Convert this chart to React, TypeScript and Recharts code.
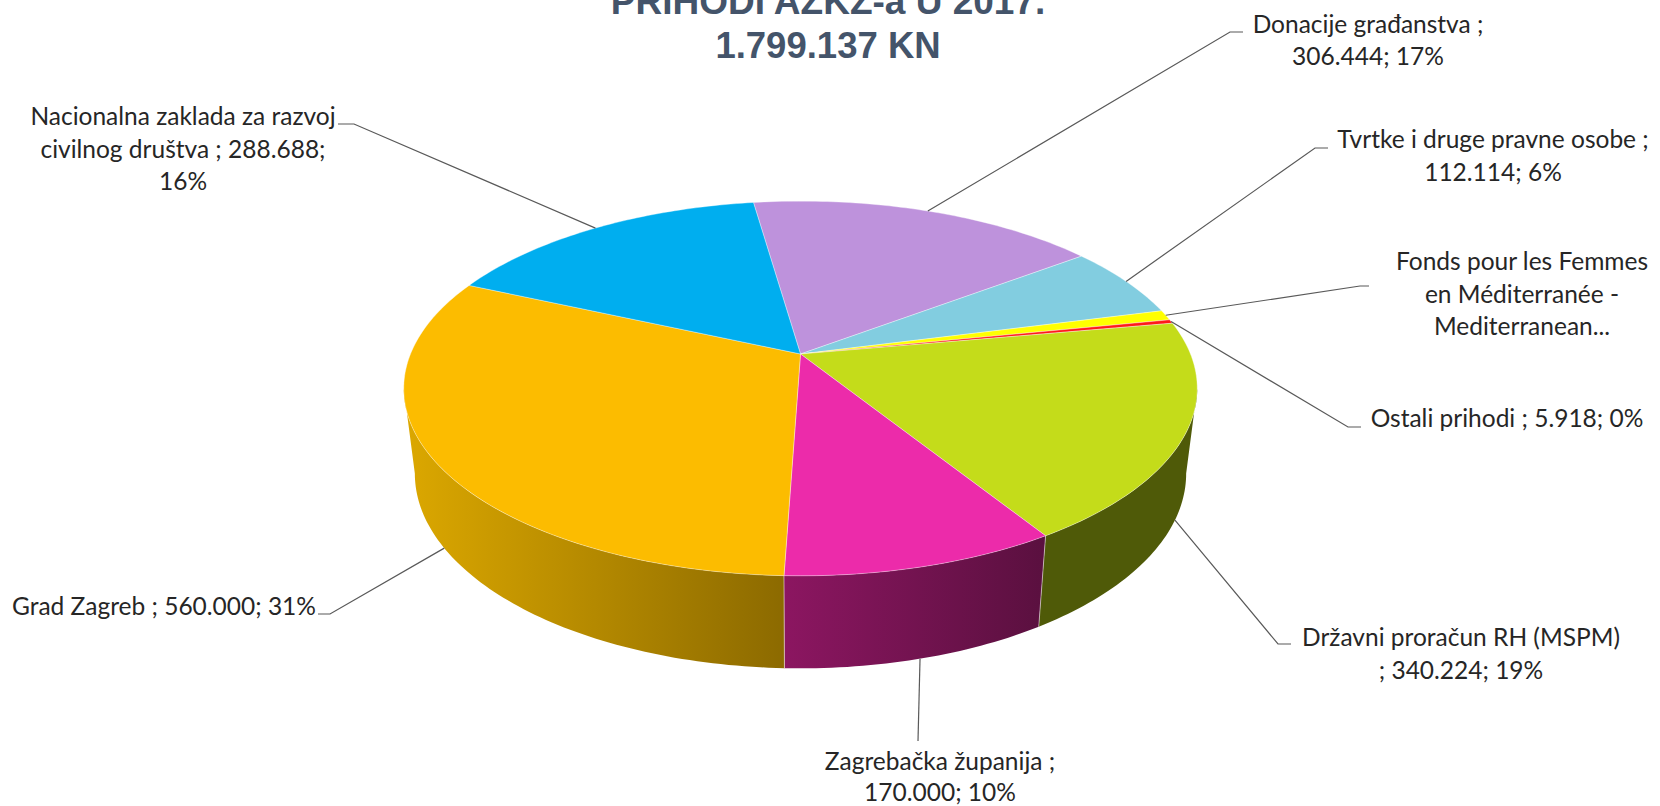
import { Pie, PieChart } from 'recharts';

const names = [
  'Donacije građanstva',
  'Tvrtke i druge pravne osobe',
  'Fonds pour les Femmes en Méditerranée',
  'Ostali prihodi',
  'Državni proračun RH (MSPM)',
  'Zagrebačka županija',
  'Grad Zagreb',
  'Nacionalna zaklada za razvoj civilnog društva',
];
const values = [306444, 112114, 15749, 5918, 340224, 170000, 560000, 288688];
const labelText = [
  ['Donacije građanstva ;', '306.444; 17%'],
  ['Tvrtke i druge pravne osobe ;', '112.114; 6%'],
  ['Fonds pour les Femmes', 'en Méditerranée -', 'Mediterranean...'],
  ['Ostali prihodi ; 5.918; 0%'],
  ['Državni proračun RH (MSPM)', '; 340.224; 19%'],
  ['Zagrebačka županija ;', '170.000; 10%'],
  ['Grad Zagreb ; 560.000; 31%'],
  ['Nacionalna zaklada za razvoj', 'civilnog društva ; 288.688;', '16%'],
];

const topColors = ['#BE92DC', '#82CDE0', '#FFFF00', '#FF1A1A', '#C4DC1A', '#EC2BAA', '#FCBC00', '#00AEEF'];
const wallFrom = ['#7A5A90', '#527F8C', '#A0A000', '#A01010', '#4F5A08', '#8C1661', '#DCA800', '#006E96'];
const wallTo = ['#7A5A90', '#527F8C', '#A0A000', '#A01010', '#4F5A08', '#5A103F', '#8C6A00', '#006E96'];

// label anchor, then the leader's elbow and end
const labelLayout = [
  { x: 1368, y: 33, elbow: [1230, 32], end: [1243, 32], spread: 31.5 },
  { x: 1493, y: 148, elbow: [1315, 148], end: [1328, 148], spread: 32.5 },
  { x: 1522, y: 270, elbow: [1360, 286], end: [1369, 286], spread: 32.5 },
  { x: 1507, y: 427, elbow: [1348, 427], end: [1361, 427], spread: 32 },
  { x: 1461, y: 646, elbow: [1278, 644], end: [1291, 644], spread: 32.5 },
  { x: 940, y: 770, elbow: [918, 741], end: [918, 741], spread: 31 },
  { x: 164, y: 615, elbow: [330, 614], end: [318, 614], spread: 32 },
  { x: 183, y: 125, elbow: [354, 124], end: [338, 124], spread: 32.5 },
];

const chartData = names.map((name, i) => ({ name, value: values[i], fill: topColors[i] }));

const CX = 800.5;
const CY = 354;
const RADIUS = 390;
const FLATTEN = 181 / 390;
const TILT = 0.184;
const START_ANGLE = 98.2;
// the wall's lower rim is the top rim moved down and rescaled
const TOP_MID_Y = 388;
const BOTTOM_MID_Y = 473;
const BOTTOM_X = 0.972;
const BOTTOM_Y = 1.04;
const FRONT_FROM = 100.6;
const FRONT_TO = 259.4;

// theta runs clockwise from twelve o'clock
function rim(theta: number, cx: number, cy: number, r: number) {
  const a = (theta * Math.PI) / 180;
  const u = Math.sin(a);
  const v = Math.cos(a);
  const s = 1 / (1 + TILT * v);
  return [cx + r * u * s, cy - r * FLATTEN * v * s];
}

function lowerRim(p: number[], cx: number) {
  return [cx + (p[0] - cx) * BOTTOM_X, BOTTOM_MID_Y + (p[1] - TOP_MID_Y) * BOTTOM_Y];
}

function arcPoints(from: number, to: number, cx: number, cy: number, r: number) {
  const steps = Math.max(2, Math.ceil(Math.abs(to - from)));
  const pts = [];
  for (let i = 0; i <= steps; i++) pts.push(rim(from + ((to - from) * i) / steps, cx, cy, r));
  return pts;
}

const toPath = (pts: number[][]) => pts.map((p, i) => `${i ? 'L' : 'M'}${p[0].toFixed(2)},${p[1].toFixed(2)}`).join(' ');

function TopSlice(props: any) {
  const { cx, cy, outerRadius, startAngle, endAngle, fill } = props;
  const pts = arcPoints(90 - startAngle, 90 - endAngle, cx, cy, outerRadius);
  return <path d={`M${cx},${cy} ${toPath(pts).replace('M', 'L')} Z`} fill={fill} stroke="#fff" strokeOpacity={0.45} strokeWidth={0.8} />;
}

function WallSlice(props: any) {
  const { cx, cy, outerRadius, startAngle, endAngle, name } = props;
  const i = names.indexOf(name);
  const a = Math.max(90 - startAngle, FRONT_FROM);
  const b = Math.min(90 - endAngle, FRONT_TO);
  if (b <= a) return <g />;
  const upper = arcPoints(a, b, cx, cy, outerRadius);
  const lower = upper.map((p) => lowerRim(p, cx)).reverse();
  const id = `wall-${i}`;
  return (
    <g>
      <defs>
        <linearGradient id={id} x1="0" x2="1" y1="0" y2="0">
          <stop offset="0" stopColor={wallFrom[i]} />
          <stop offset="1" stopColor={wallTo[i]} />
        </linearGradient>
      </defs>
      <path d={`${toPath(upper)} ${toPath(lower).replace('M', 'L')} Z`} fill={`url(#${id})`} />
      {a > FRONT_FROM && <path d={toPath([upper[0], lower[lower.length - 1]])} stroke="#fff" strokeOpacity={0.5} strokeWidth={1} />}
    </g>
  );
}

function SliceLabel(props: any) {
  const { cx, cy, outerRadius, midAngle, index } = props;
  const layout = labelLayout[index];
  const theta = 90 - midAngle;
  let start = rim(theta, cx, cy, outerRadius);
  if (theta > FRONT_FROM && theta < FRONT_TO) start = lowerRim(start, cx);
  return (
    <g>
      <polyline
        points={[start, layout.elbow, layout.end].map((p) => p.join(',')).join(' ')}
        fill="none"
        stroke="#595959"
        strokeWidth={1.2}
      />
      <text x={layout.x} y={layout.y} textAnchor="middle" fontFamily="Lato" fontSize={24.5} fill="#262626">
        {labelText[index].map((line, n) => (
          <tspan key={n} x={layout.x} dy={n ? layout.spread : 0}>
            {line}
          </tspan>
        ))}
      </text>
    </g>
  );
}

export default function App() {
  return (
    <div style={{ position: 'absolute', left: 0, top: 0, width: 1660, height: 806, background: '#fff', overflow: 'hidden' }}>
      <PieChart width={1660} height={806} margin={{ top: 0, right: 0, bottom: 0, left: 0 }}>
        <text x={828} y={14} textAnchor="middle" fontFamily="Liberation Sans" fontWeight="bold" fontSize={37} fill="#44546A">
          PRIHODI AZKZ-a U 2017.
        </text>
        <text x={828} y={58} textAnchor="middle" fontFamily="Liberation Sans" fontWeight="bold" fontSize={36.5} fill="#44546A">
          1.799.137 KN
        </text>
        <Pie
          data={chartData}
          dataKey="value"
          nameKey="name"
          cx={CX}
          cy={CY}
          innerRadius={0}
          outerRadius={RADIUS}
          startAngle={START_ANGLE}
          endAngle={START_ANGLE - 360}
          stroke="none"
          isAnimationActive={false}
          label={false}
          labelLine={false}
          shape={WallSlice}
          inactiveShape={WallSlice}
        />
        <Pie
          data={chartData}
          dataKey="value"
          nameKey="name"
          cx={CX}
          cy={CY}
          innerRadius={0}
          outerRadius={RADIUS}
          startAngle={START_ANGLE}
          endAngle={START_ANGLE - 360}
          isAnimationActive={false}
          label={SliceLabel}
          labelLine={false}
          shape={TopSlice}
          inactiveShape={TopSlice}
        />
      </PieChart>
    </div>
  );
}
